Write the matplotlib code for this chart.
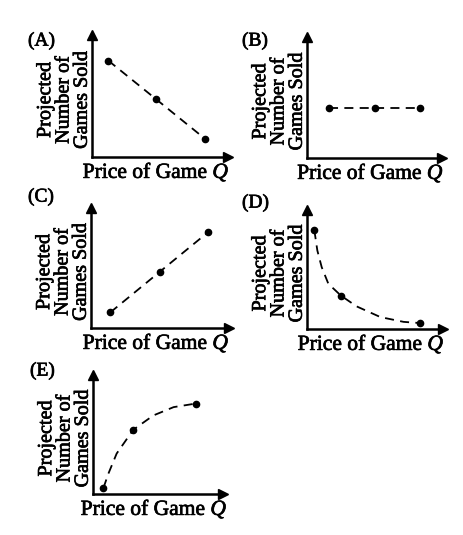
import numpy as np
import matplotlib.pyplot as plt
import matplotlib.patheffects as pe

plt.rcParams['font.family'] = ['Liberation Serif', 'DejaVu Serif']
plt.rcParams['mathtext.fontset'] = 'custom'
plt.rcParams['mathtext.it'] = 'Liberation Serif:italic'
plt.rcParams['mathtext.rm'] = 'Liberation Serif'

# panel letters
labels = ["(A)", "(B)", "(C)", "(D)", "(E)"]

# three marked points per panel (price, games sold), arbitrary units 0-10
pts_x = [[1.2, 4.7, 8.3],
         [1.6, 5.0, 8.4],
         [1.4, 5.0, 8.5],
         [0.5, 2.5, 8.3],
         [0.8, 3.1, 7.9]]
pts_y = [[7.9, 4.75, 1.5],
         [4.1, 4.1, 4.1],
         [1.3, 4.7, 8.0],
         [8.3, 2.8, 0.5],
         [0.5, 5.4, 7.6]]

# dashed curves for (D) and (E)
curve_d_x = [0.54, 0.76, 1.08, 1.57, 2.5, 3.65, 5.4, 7.1, 8.3]
curve_d_y = [8.3, 6.6, 5.2, 3.8, 2.8, 1.9, 1.0, 0.6, 0.5]
curve_e_x = [0.8, 1.18, 1.82, 3.1, 4.64, 6.2, 7.9]
curve_e_y = [0.5, 1.7, 3.4, 5.4, 6.6, 7.3, 7.6]

# axes boxes in pixels: left, right, bottom, top
boxes = [(92, 228, 157, 35),
         (307, 442, 158, 37),
         (91, 229, 328, 208),
         (307, 443, 329, 210),
         (93, 223, 494, 375)]
# label positions (pixels)
lab_pos = [(28, 41), (242, 41), (28, 197), (242, 203), (30, 371)]

W, H = 463, 535
fig = plt.figure(figsize=(W / 100, H / 100), dpi=100)
heavy = [pe.withStroke(linewidth=0.5, foreground="black")]

for i in range(5):
    l, r, b, t = boxes[i]
    ax = fig.add_axes([l / W, 1 - b / H, (r - l) / W, (b - t) / H])
    ax.set_xlim(0, 10)
    ax.set_ylim(0, 10)
    for s in ["top", "right"]:
        ax.spines[s].set_visible(False)
    for s in ["left", "bottom"]:
        ax.spines[s].set_linewidth(1.8)
    ax.set_xticks([])
    ax.set_yticks([])
    ax.patch.set_alpha(0)
    ax.plot(1, 0, ">k", ms=7, transform=ax.get_yaxis_transform(), clip_on=False)
    ax.plot(0, 1, "^k", ms=7, transform=ax.get_xaxis_transform(), clip_on=False)

    if i == 3:
        ax.plot(curve_d_x, curve_d_y, "k", ls=(0, (5, 3.5)), lw=1.3)
    elif i == 4:
        ax.plot(curve_e_x, curve_e_y, "k", ls=(0, (5, 3.5)), lw=1.3)
    else:
        ax.plot(pts_x[i], pts_y[i], "k", ls=(0, (5, 3.5)), lw=1.3)
    ax.plot(pts_x[i], pts_y[i], "ko", ms=4.5)

    cx = (l + r) / 2 - 4
    fig.text(cx / W, 1 - (b + 15) / H, "Price of Game $Q$", ha="center", va="center",
             fontsize=15.5, path_effects=heavy)
    fig.text((l - 28) / W, 1 - ((b + t) / 2 + 4) / H, "Projected\nNumber of\nGames Sold",
             rotation=90, ha="center", va="center", fontsize=14.5, linespacing=0.95,
             multialignment="center", path_effects=heavy)
    fig.text(lab_pos[i][0] / W, 1 - lab_pos[i][1] / H, labels[i], ha="left",
             va="center", fontsize=14, path_effects=heavy)

fig.savefig("out.png", dpi=100)
